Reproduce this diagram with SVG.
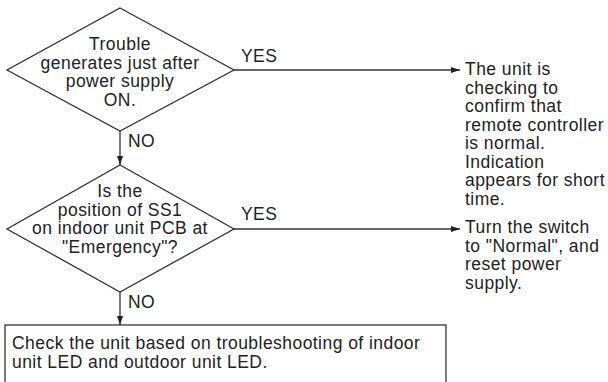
<svg xmlns="http://www.w3.org/2000/svg" width="608" height="382" viewBox="0 0 608 382">
  <style>
    text { font-family: "Liberation Sans", Arial, sans-serif; font-size: 17.5px; letter-spacing: 0.45px; fill: #222; }
    .mid { text-anchor: middle; }
    .shape { fill: #fff; stroke: #333; stroke-width: 1.3; }
    .line { fill: none; stroke: #333; stroke-width: 1.3; }
  </style>
  <defs>
    <marker id="arrow" markerWidth="10" markerHeight="8" refX="9" refY="4" orient="auto" markerUnits="userSpaceOnUse">
      <path d="M0,1 L9,4 L0,7 Z" fill="#222"/>
    </marker>
  </defs>
  <rect width="608" height="382" fill="#fff"/>

  <g id="connectors">
    <line class="line" x1="234" y1="70" x2="460" y2="70" marker-end="url(#arrow)"/>
    <line class="line" x1="120" y1="131" x2="120" y2="165" marker-end="url(#arrow)"/>
    <line class="line" x1="234" y1="229" x2="460" y2="229" marker-end="url(#arrow)"/>
    <line class="line" x1="120" y1="292" x2="120" y2="325" marker-end="url(#arrow)"/>
    <text x="241" y="62">YES</text>
    <text x="128" y="147">NO</text>
    <text x="241" y="220">YES</text>
    <text x="128" y="308">NO</text>
  </g>

  <g id="decision-power">
    <polygon class="shape" points="120,8 234,70 120,131 7,70"/>
    <text class="mid" x="120" y="50">Trouble</text>
    <text class="mid" x="120" y="68.5">generates just after</text>
    <text class="mid" x="120" y="87">power supply</text>
    <text class="mid" x="120" y="105.5">ON.</text>
  </g>

  <g id="decision-ss1">
    <polygon class="shape" points="120,165 234,229 120,292 7,229"/>
    <text class="mid" x="120" y="197">Is the</text>
    <text class="mid" x="120" y="215.5">position of SS1</text>
    <text class="mid" x="120" y="234">on indoor unit PCB at</text>
    <text class="mid" x="120" y="252.5">"Emergency"?</text>
  </g>

  <g id="note-checking">
    <text x="465" y="75">The unit is</text>
    <text x="465" y="93.5">checking to</text>
    <text x="465" y="112">confirm that</text>
    <text x="465" y="130.5">remote controller</text>
    <text x="465" y="149">is normal.</text>
    <text x="465" y="167.5">Indication</text>
    <text x="465" y="186">appears for short</text>
    <text x="465" y="204.5">time.</text>
  </g>

  <g id="note-switch">
    <text x="465" y="233">Turn the switch</text>
    <text x="465" y="251.5">to "Normal", and</text>
    <text x="465" y="270">reset power</text>
    <text x="465" y="288.5">supply.</text>
  </g>

  <g id="box-check">
    <rect class="shape" x="5" y="325" width="441" height="70"/>
    <text x="12" y="349">Check the unit based on troubleshooting of indoor</text>
    <text x="12" y="367.5">unit LED and outdoor unit LED.</text>
  </g>
</svg>
